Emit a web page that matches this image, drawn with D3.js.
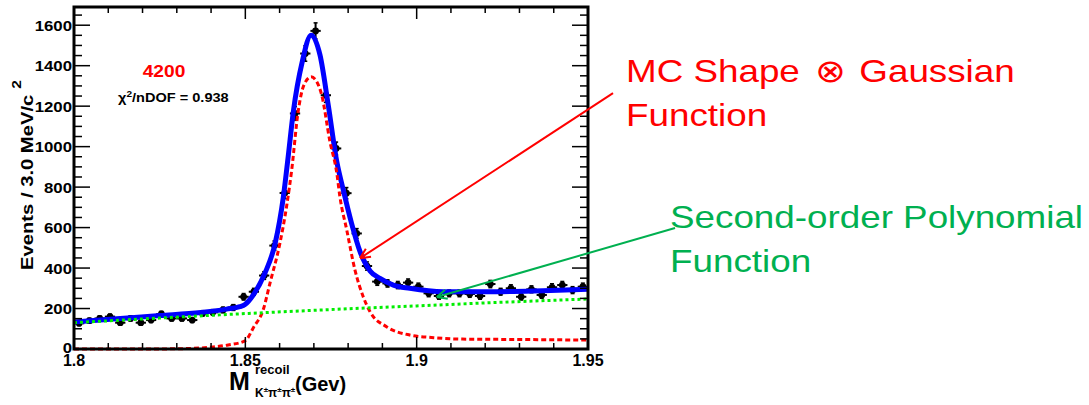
<!DOCTYPE html>
<html><head><meta charset="utf-8">
<script src="https://cdn.jsdelivr.net/npm/d3@7"></script>
<style>body{margin:0;background:#fff}svg{display:block}text{font-family:"Liberation Sans",Arial,Helvetica,sans-serif}</style>
</head><body>
<svg id="c" width="1089" height="405"></svg>
<script>
// ---- data ----
const binCenters = [1.8015,1.8045,1.8075,1.8105,1.8135,1.8165,1.8195,1.8225,1.8255,1.8285,
  1.8315,1.8345,1.8375,1.8405,1.8435,1.8465,1.8495,1.8525,1.8555,1.8585,
  1.8615,1.8645,1.8675,1.8705,1.8735,1.8765,1.8795,1.8825,1.8855,1.8885,
  1.8915,1.8945,1.8975,1.9005,1.9035,1.9065,1.9095,1.9125,1.9155,1.9185,
  1.9215,1.9245,1.9275,1.9305,1.9335,1.9365,1.9395,1.9425,1.9455,1.9485];
const counts = [127,140,151,160,130,151,130,143,173,151,
  151,143,176,181,193,205,258,283,363,511,
  771,1164,1460,1572,1254,991,770,571,410,333,
  324,316,328,308,275,262,275,275,272,262,
  321,283,300,258,295,267,305,316,291,308];
const binHalfWidth = 0.0015;

const totalX = [1.800,1.8125,1.8251,1.837,1.8445,1.8484,1.8499,1.8523,1.8557,1.8587,1.8611,1.8625,1.864,1.8666,1.8692,1.8718,1.8742,1.8767,1.8786,1.881,1.8835,1.8864,1.8893,1.8932,1.898,1.9078,1.9224,1.9369,1.95];
const totalY = [133,150,165,180,197,209,220,267,374,522,752,950,1172,1419,1551,1452,1205,925,785,621,480,386,349,316,300,283,283,288,295];

const sigX = [1.800,1.820,1.830,1.8406,1.845,1.8499,1.8525,1.8552,1.8572,1.8601,1.862,1.8635,1.8654,1.867,1.8692,1.8705,1.8723,1.8747,1.8767,1.8776,1.8796,1.882,1.8844,1.8864,1.8912,1.898,1.905,1.9126,1.93,1.95];
const sigY = [0,0,1,10,20,40,110,193,326,523,700,880,1172,1300,1345,1330,1254,1024,868,752,588,390,258,184,110,69,56,49,47,44];

const bkgX = [1.80,1.825,1.85,1.875,1.90,1.925,1.95];
const bkgY = [130,153,175,195,213,231,247];

const yTicks = [0,200,400,600,800,1000,1200,1400,1600];
const yTickLabels = ["0","200","400","600","800","1000","1200","1400","1600"];
const xTicks = [1.8,1.85,1.9,1.95];
const xTickLabels = ["1.8","1.85","1.9","1.95"];

// annotation arrows in data units: [fromX, fromY, toX, toY]
const redArrow = [1.9573,1264,1.8835,449];
const greenArrow = [1.9754,598,1.9059,257];

// ---- drawing ----
const svg = d3.select("#c");
const x = d3.scaleLinear().domain([1.8,1.95]).range([74,588]);
const y = d3.scaleLinear().domain([0,1690]).range([349,7]);

const g = svg.append("g");

// data points
const pts = g.append("g");
binCenters.forEach((c,i)=>{
  const n = counts[i], e = Math.sqrt(n);
  pts.append("line").attr("x1",x(c-binHalfWidth)).attr("x2",x(c+binHalfWidth))
    .attr("y1",y(n)).attr("y2",y(n)).attr("stroke","#000").attr("stroke-width",2);
  pts.append("line").attr("x1",x(c)).attr("x2",x(c))
    .attr("y1",y(n-e)).attr("y2",y(n+e)).attr("stroke","#000").attr("stroke-width",2);
  [n-e,n+e].forEach(v=>pts.append("line").attr("x1",x(c)-2).attr("x2",x(c)+2)
    .attr("y1",y(v)).attr("y2",y(v)).attr("stroke","#000").attr("stroke-width",1.5));
  pts.append("circle").attr("cx",x(c)).attr("cy",y(n)).attr("r",3.4).attr("fill","#000");
});

const line = d3.line().x(d=>x(d[0])).y(d=>y(d[1])).curve(d3.curveMonotoneX);
g.append("path").attr("d",line(d3.zip(totalX,totalY))).attr("fill","none")
  .attr("stroke","#0000ff").attr("stroke-width",5).attr("stroke-linejoin","round");
g.append("path").attr("d",line(d3.zip(sigX,sigY))).attr("fill","none")
  .attr("stroke","#ff0000").attr("stroke-width",3).attr("stroke-dasharray","5,3");
g.append("path").attr("d",line(d3.zip(bkgX,bkgY))).attr("fill","none")
  .attr("stroke","#00ee00").attr("stroke-width",3).attr("stroke-dasharray","3,3");

// frame
const [x0,x1] = x.range(), [yb,yt] = y.range();
svg.append("rect").attr("x",x0).attr("y",yt).attr("width",x1-x0).attr("height",yb-yt)
  .attr("fill","none").attr("stroke","#000").attr("stroke-width",3);

// ticks (inside, all four sides)
d3.range(0,1690,50).forEach(v=>{
  const L = v%200===0?16:8;
  svg.append("line").attr("x1",x0).attr("x2",x0+L).attr("y1",y(v)).attr("y2",y(v)).attr("stroke","#000").attr("stroke-width",1.5);
  svg.append("line").attr("x1",x1).attr("x2",x1-L).attr("y1",y(v)).attr("y2",y(v)).attr("stroke","#000").attr("stroke-width",1.5);
});
d3.range(0,16).forEach(i=>{
  const v = x.domain()[0]+i*0.01, L = i%5===0?12:6;
  svg.append("line").attr("x1",x(v)).attr("x2",x(v)).attr("y1",yb).attr("y2",yb-L).attr("stroke","#000").attr("stroke-width",1.5);
  svg.append("line").attr("x1",x(v)).attr("x2",x(v)).attr("y1",yt).attr("y2",yt+L).attr("stroke","#000").attr("stroke-width",1.5);
});

// tick labels
yTicks.forEach((v,i)=>{
  const off = v===0 ? 3.5 : 5.5;
  svg.append("text").attr("transform",`translate(72,${y(v)+off}) scale(1.2,1)`)
    .attr("text-anchor","end").attr("font-weight","bold").attr("font-size",14).attr("fill","#000")
    .text(yTickLabels[i]);
});
xTicks.forEach((v,i)=>{
  svg.append("text").attr("x",x(v)).attr("y",366).attr("text-anchor","middle")
    .attr("font-weight","bold").attr("font-size",16).attr("fill","#000").text(xTickLabels[i]);
});

// y title
const yt1 = svg.append("text").attr("transform","translate(33,270) rotate(-90) scale(1.19,1)")
  .attr("font-weight","bold").attr("font-size",17).attr("fill","#000");
yt1.append("tspan").text("Events / 3.0 MeV/c");
yt1.append("tspan").attr("dx",5).attr("dy",-12).attr("font-size",13).text("2");

// x title
svg.append("text").attr("x",229).attr("y",390).attr("font-weight","bold").attr("font-size",25).attr("fill","#000").text("M");
svg.append("text").attr("x",255).attr("y",374).attr("font-weight","bold").attr("font-size",13).text("recoil");
const sub = svg.append("text").attr("x",255).attr("y",397).attr("font-weight","bold").attr("font-size",12);
sub.append("tspan").text("K");
sub.append("tspan").attr("font-size",8).attr("dy",-5).text("±");
sub.append("tspan").attr("dy",5).text("π");
sub.append("tspan").attr("font-size",8).attr("dy",-5).text("±");
sub.append("tspan").attr("dy",5).text("π");
sub.append("tspan").attr("font-size",8).attr("dy",-5).text("±");
svg.append("text").attr("x",295).attr("y",391).attr("font-weight","bold").attr("font-size",20).text("(Gev)");

// in-plot labels
svg.append("text").attr("transform","translate(164,77) scale(1.2,1)").attr("text-anchor","middle").attr("font-weight","bold")
  .attr("font-size",16).attr("fill","#ff0000").text("4200");
const chi = svg.append("text").attr("transform","translate(118,102) scale(1.12,1)").attr("font-weight","bold").attr("font-size",13).attr("fill","#000");
chi.append("tspan").text("χ");
chi.append("tspan").attr("dy",-5).attr("font-size",9).text("2");
chi.append("tspan").attr("dy",5).text("/nDOF = 0.938");

// arrows
function arrow(a,color){
  const [fx,fy,tx,ty] = [x(a[0]),y(a[1]),x(a[2]),y(a[3])];
  svg.append("line").attr("x1",fx).attr("y1",fy).attr("x2",tx).attr("y2",ty).attr("stroke",color).attr("stroke-width",2);
  const ang = Math.atan2(fy-ty,fx-tx), L=11, s=0.45;
  [ang+s,ang-s].forEach(b=>svg.append("line").attr("x1",tx).attr("y1",ty)
    .attr("x2",tx+L*Math.cos(b)).attr("y2",ty+L*Math.sin(b)).attr("stroke",color).attr("stroke-width",2));
}
arrow(redArrow,"#ff0000");
arrow(greenArrow,"#00b050");

// annotation texts
const t1 = svg.append("text").attr("transform","translate(626,82) scale(1.15,1)").attr("font-size",32).attr("fill","#ff0000");
t1.append("tspan").text("MC Shape ");
t1.append("tspan").attr("font-family","'DejaVu Sans'").attr("font-weight",200).attr("dx",4).text("\u2297");
t1.append("tspan").attr("dx",4).text(" Gaussian");
svg.append("text").attr("transform","translate(626,126) scale(1.15,1)").attr("font-size",32).attr("fill","#ff0000").text("Function");
svg.append("text").attr("transform","translate(670,228) scale(1.15,1)").attr("font-size",32).attr("fill","#00b050").text("Second-order Polynomial");
svg.append("text").attr("transform","translate(670,272) scale(1.15,1)").attr("font-size",32).attr("fill","#00b050").text("Function");
</script>
</body></html>
